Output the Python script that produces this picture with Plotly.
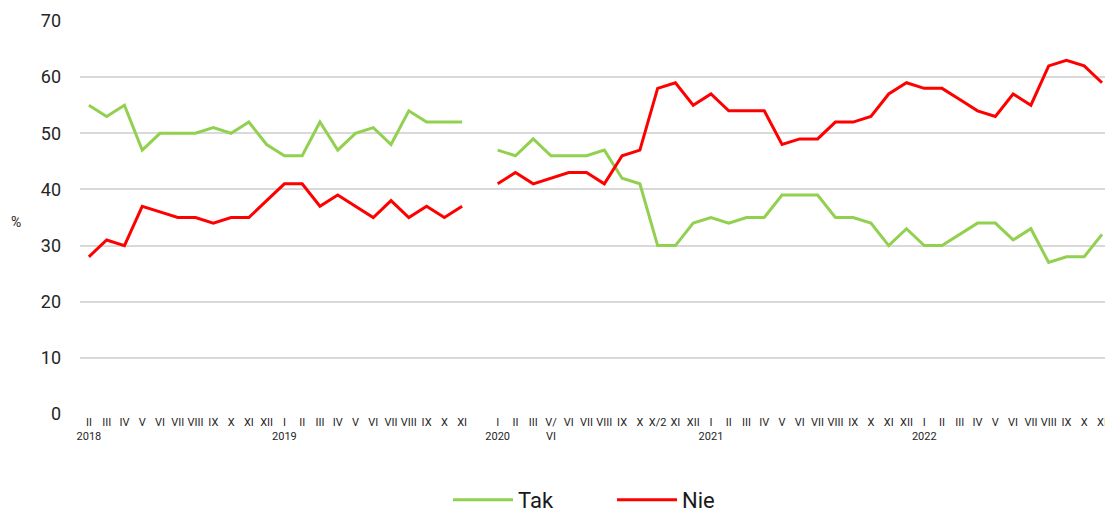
import plotly.graph_objects as go

# Month labels (first line) and year labels (second line); "" marks the break between 2019 and 2020
months = ["II", "III", "IV", "V", "VI", "VII", "VIII", "IX", "X", "XI", "XII",
          "I", "II", "III", "IV", "V", "VI", "VII", "VIII", "IX", "X", "XI",
          "",
          "I", "II", "III", "V/", "VI", "VII", "VIII", "IX", "X", "X/2", "XI", "XII",
          "I", "II", "III", "IV", "V", "VI", "VII", "VIII", "IX", "X", "XI", "XII",
          "I", "II", "III", "IV", "V", "VI", "VII", "VIII", "IX", "X", "XI"]
second_line = {0: "2018", 11: "2019", 23: "2020", 26: "VI", 35: "2021", 47: "2022"}

tak = [55, 53, 55, 47, 50, 50, 50, 51, 50, 52, 48, 46, 46, 52, 47, 50, 51, 48, 54, 52, 52, 52,
       None,
       47, 46, 49, 46, 46, 46, 47, 42, 41, 30, 30, 34, 35, 34, 35, 35, 39, 39, 39, 35, 35, 34,
       30, 33, 30, 30, 32, 34, 34, 31, 33, 27, 28, 28, 32]
nie = [28, 31, 30, 37, 36, 35, 35, 34, 35, 35, 38, 41, 41, 37, 39, 37, 35, 38, 35, 37, 35, 37,
       None,
       41, 43, 41, 42, 43, 43, 41, 46, 47, 58, 59, 55, 57, 54, 54, 54, 48, 49, 49, 52, 52, 53,
       57, 59, 58, 58, 56, 54, 53, 57, 55, 62, 63, 62, 59]

xs = list(range(len(months)))
ticktext = [m + ("<br>" + second_line[i] if i in second_line else "") for i, m in enumerate(months)]

fig = go.Figure()
fig.add_trace(go.Scatter(x=xs, y=tak, mode="lines", name="Tak",
                         line=dict(color="#92D050", width=3), connectgaps=False))
fig.add_trace(go.Scatter(x=xs, y=nie, mode="lines", name="Nie",
                         line=dict(color="#FF0000", width=3), connectgaps=False))

fig.update_layout(
    width=1105, height=510,
    margin=dict(l=80, r=0, t=21, b=96, autoexpand=False),
    paper_bgcolor="white", plot_bgcolor="white",
    font=dict(family="Roboto", color="#262626"),
    showlegend=True,
    legend=dict(orientation="h", x=(448 - 80) / 1025, xanchor="left", y=(414 - 500) / 393,
                yanchor="middle", font=dict(size=22, color="#1a1a1a"), itemwidth=60,
                entrywidth=89, entrywidthmode="pixels"),
    xaxis=dict(range=[-0.5, 57.17], tickmode="array", tickvals=xs, ticktext=ticktext,
               tickangle=0, tickfont=dict(size=11, color="#262626"), showgrid=False,
               zeroline=False, showline=False, ticks="", automargin=False,
               ticklabeloverflow="allow"),
    yaxis=dict(range=[0, 70], dtick=10, tickfont=dict(size=18, color="#262626"),
               showgrid=True, gridcolor="#D9D9D9", gridwidth=1.5, zeroline=False,
               ticks="", ticklabelstandoff=18, automargin=False),
    annotations=[dict(text="%", xref="paper", yref="paper", x=(16 - 80) / 1025, y=(414 - 222) / 393,
                      xanchor="center", yanchor="middle", showarrow=False,
                      font=dict(size=14, color="#262626"))],
)

fig.write_html("out.html", config={"displayModeBar": False},
               post_script="document.body.style.margin='0';document.body.style.overflow='hidden';")
